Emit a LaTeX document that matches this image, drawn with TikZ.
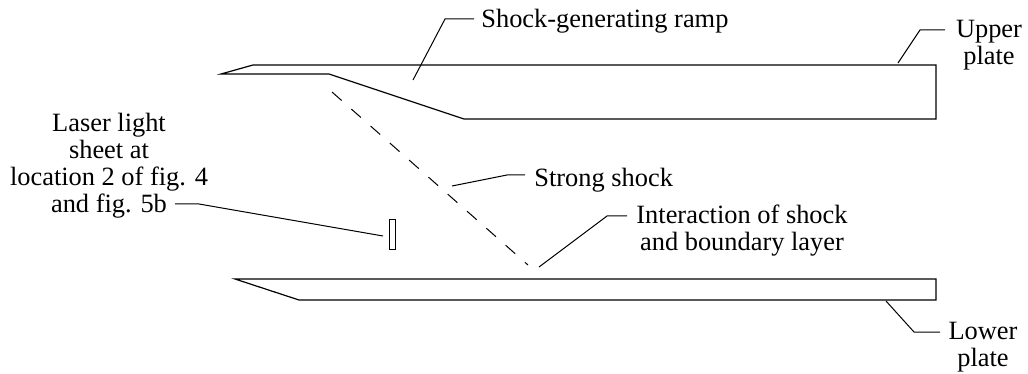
\documentclass[tikz,border=0pt]{standalone}
\usepackage{fontspec}
\setmainfont{Liberation Serif}
\usetikzlibrary{calc}
\begin{document}
\begin{tikzpicture}[x=0.75pt, y=-0.75pt, semithick, line join=miter]
	% Define styles
	\tikzstyle{plate} = [draw, line width=0.9pt]
	\tikzstyle{leader} = [draw, line width=0.75pt]
	\tikzstyle{shock} = [draw, line width=0.75pt, dash pattern=on 9.6pt off 9.7pt]
	\tikzstyle{label} = [inner sep=0pt, align=center, font=\fontsize{19.8pt}{20.2pt}\selectfont]
	\tikzstyle{sheet} = [draw, line width=0.75pt, rectangle, inner sep=0pt, minimum width=5pt, minimum height=22.5pt]
	\useasboundingbox (0,0) rectangle (1028,374);
%%====Plates and shock=====================================
	\draw [plate] (221,74) -- (253,65) -- (936,65) -- (936,119) -- (464,119) -- (329,74) -- cycle;
	\draw [plate] (235,279) -- (936,279) -- (936,300) -- (299,300) -- cycle;
	\draw [shock] (332,92) -- (528,265);
	\node [sheet] (lightsheet) at (392.5,234) {};
%%====Labels===============================================
	\node [label, anchor=base west] (ramp) at (481,28) {Shock-generating ramp};
	\node [label] (upper) at (989,45) {Upper\\plate};
	\node [label] (lower) at (983,347) {Lower\\plate};
	\node [label, anchor=base west] (strong) at (534,187) {Strong shock};
	\node [label] (interaction) at (742,231) {Interaction of shock\\and boundary layer};
	\node [label] (laser) at (109,166) {Laser light\\sheet at\\location 2 of fig. 4\\and fig. 5b};
%%====Leaders==============================================
	\coordinate (rampEnd) at (413,80);
	\coordinate (upperEnd) at (898,63);
	\coordinate (lowerEnd) at (886,301);
	\coordinate (strongEnd) at (452,186);
	\coordinate (interactionEnd) at (539,267);
	\draw [leader] (rampEnd) -- (445,19) -- (474,19);
	\draw [leader] (upperEnd) -- (920,30) -- (945,30);
	\draw [leader] (lowerEnd) -- (914,332) -- (940,332);
	\draw [leader] (strongEnd) -- (507,175) -- (525,175);
	\draw [leader] (interactionEnd) -- (607,216) -- (627,216);
	\draw [leader] (175,204) -- (199,204) -- (383,236);
\end{tikzpicture}
\end{document}
